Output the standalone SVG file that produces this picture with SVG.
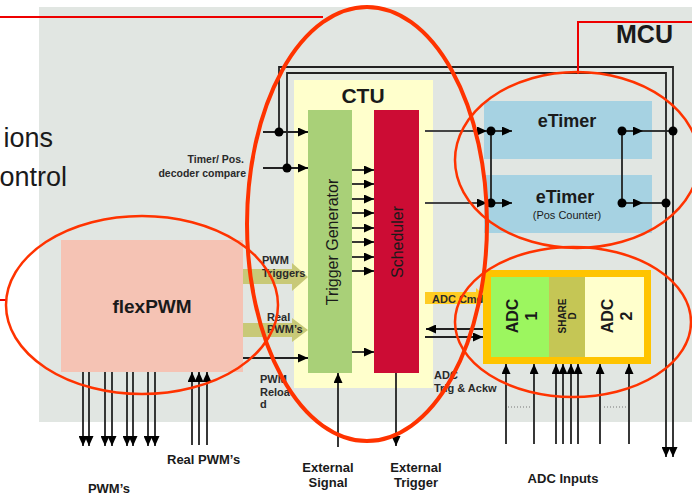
<svg xmlns="http://www.w3.org/2000/svg" width="692" height="496" viewBox="0 0 692 496">
<style>
text{font-family:"Liberation Sans",Arial,sans-serif;fill:#1a1a1a}
.b{font-weight:bold}
.s11{font-size:11px;font-weight:bold;fill:#2a2a2a}
.s13{font-size:13px;font-weight:bold}
.ln{stroke:#222;stroke-width:1.8;fill:none}
.lg{stroke:#444;stroke-width:2;fill:none}
.ell{fill:none;stroke:#ff3300}
.red{stroke:#ee0000;stroke-width:2;fill:none}
.dot{fill:#000}
</style>
<defs>
<marker id="ah" markerUnits="userSpaceOnUse" markerWidth="10" markerHeight="9" refX="10" refY="4.5" orient="auto">
<path d="M0,0 L10,4.5 L0,9 Z" fill="#000"/>
</marker>
</defs>
<rect width="692" height="496" fill="#fff"/>
<g id="mcu">
<rect x="39" y="7" width="653" height="415" fill="#e1e6e2"/>
<text x="616" y="43" class="b" style="font-size:25px">MCU</text>
</g>
<g id="slide-text">
<text x="53" y="147" text-anchor="end" style="font-size:27px">ions</text>
<text x="67" y="186" text-anchor="end" style="font-size:27px">ontrol</text>
</g>
<g id="ctu">
<rect x="294" y="80" width="139" height="308" fill="#ffffcc"/>
<text x="363" y="103" text-anchor="middle" class="b" style="font-size:21px">CTU</text>
</g>
<g id="trigger-generator">
<rect x="308" y="110" width="44" height="263" fill="#a9d078"/>
<text transform="translate(338,242) rotate(-90)" text-anchor="middle" style="font-size:16px">Trigger Generator</text>
</g>
<g id="scheduler">
<rect x="374" y="110" width="45" height="263" fill="#cc0c34"/>
<text transform="translate(403,242) rotate(-90)" text-anchor="middle" style="font-size:16px">Scheduler</text>
</g>
<g id="etimer1">
<rect x="484" y="101" width="168" height="58" fill="#a6d2e2"/>
<text x="567" y="127" text-anchor="middle" class="b" style="font-size:18px">eTimer</text>
</g>
<g id="etimer2">
<rect x="484" y="175" width="168" height="58" fill="#a6d2e2"/>
<text x="565" y="203" text-anchor="middle" class="b" style="font-size:18px">eTimer</text>
<text x="567" y="219" text-anchor="middle" style="font-size:11px">(Pos Counter)</text>
</g>
<g id="flexpwm">
<rect x="61" y="240" width="182" height="132" fill="#f5c3b4"/>
<text x="152" y="313" text-anchor="middle" class="b" style="font-size:19px">flexPWM</text>
</g>
<g id="pwm-triggers-arrow">
<polygon points="243,269 292,269 292,263 308,277 292,291 292,284 243,284" fill="#c8c977"/>
<text x="262" y="264" class="s11">PWM</text>
<text x="262" y="277" class="s11">Triggers</text>
</g>
<g id="real-pwms-arrow">
<polygon points="243,323 292,323 292,318 308,330 292,342 292,337 243,337" fill="#c8c977"/>
<text x="267" y="321" class="s11">Real</text>
<text x="267" y="333" class="s11">PWM’s</text>
</g>
<g id="adc-cmd-arrow">
<polygon points="425,292 476,292 476,288 487,298 476,308 476,304 425,304" fill="#ffcc22"/>
<text x="432" y="303" class="s11">ADC Cmd</text>
</g>
<g id="adc">
<rect x="483" y="270" width="168" height="94" fill="#ffc400"/>
<rect x="491" y="277" width="58" height="80" fill="#9cf65f"/>
<rect x="549" y="277" width="36" height="80" fill="#c5c655"/>
<rect x="585" y="277" width="59" height="80" fill="#ffffcc"/>
<text transform="translate(518,316) rotate(-90)" text-anchor="middle" class="b" style="font-size:16px">ADC</text>
<text transform="translate(537,316) rotate(-90)" text-anchor="middle" class="b" style="font-size:16px">1</text>
<text transform="translate(566,316) rotate(-90)" text-anchor="middle" class="b" style="font-size:10px">SHARE</text>
<text transform="translate(576,316) rotate(-90)" text-anchor="middle" class="b" style="font-size:10px">D</text>
<text transform="translate(613,316) rotate(-90)" text-anchor="middle" class="b" style="font-size:16px">ADC</text>
<text transform="translate(632,316) rotate(-90)" text-anchor="middle" class="b" style="font-size:16px">2</text>
</g>
<g id="connectors">
<polyline class="ln" points="279,132 279,67 673,67 673,457" marker-end="url(#ah)"/>
<polyline class="ln" points="287,168 287,73 666,73 666,457" marker-end="url(#ah)"/>
<line class="ln" x1="263" y1="132" x2="308" y2="132" marker-end="url(#ah)"/>
<line class="ln" x1="263" y1="168" x2="308" y2="168" marker-end="url(#ah)"/>
<circle class="dot" cx="279" cy="132" r="4.5"/>
<circle class="dot" cx="287" cy="168" r="4.5"/>
<line class="ln" x1="352" y1="170" x2="374" y2="170" marker-end="url(#ah)"/>
<line class="ln" x1="352" y1="184" x2="374" y2="184" marker-end="url(#ah)"/>
<line class="ln" x1="352" y1="199" x2="374" y2="199" marker-end="url(#ah)"/>
<line class="ln" x1="352" y1="213" x2="374" y2="213" marker-end="url(#ah)"/>
<line class="ln" x1="352" y1="228" x2="374" y2="228" marker-end="url(#ah)"/>
<line class="ln" x1="352" y1="242" x2="374" y2="242" marker-end="url(#ah)"/>
<line class="ln" x1="352" y1="257" x2="374" y2="257" marker-end="url(#ah)"/>
<line class="ln" x1="352" y1="271" x2="374" y2="271" marker-end="url(#ah)"/>
<line class="ln" x1="352" y1="352" x2="374" y2="352" marker-end="url(#ah)"/>
<line class="lg" x1="425" y1="131" x2="487" y2="131" marker-end="url(#ah)"/>
<line class="lg" x1="425" y1="203" x2="487" y2="203" marker-end="url(#ah)"/>
<line class="ln" x1="491" y1="131" x2="512" y2="131" marker-end="url(#ah)"/>
<line class="ln" x1="491" y1="203" x2="512" y2="203" marker-end="url(#ah)"/>
<line class="ln" x1="491" y1="131" x2="491" y2="203"/>
<circle class="dot" cx="491" cy="131" r="4.5"/>
<circle class="dot" cx="491" cy="203" r="4.5"/>
<line class="ln" x1="622" y1="131" x2="643" y2="131" marker-end="url(#ah)"/>
<line class="ln" x1="622" y1="203" x2="643" y2="203" marker-end="url(#ah)"/>
<line class="ln" x1="643" y1="131" x2="673" y2="131"/>
<line class="ln" x1="643" y1="203" x2="666" y2="203"/>
<line class="ln" x1="622" y1="131" x2="622" y2="203"/>
<circle class="dot" cx="622" cy="131" r="4.5"/>
<circle class="dot" cx="622" cy="203" r="4.5"/>
<circle class="dot" cx="673" cy="131" r="4.5"/>
<circle class="dot" cx="666" cy="203" r="4.5"/>
<line class="ln" x1="483" y1="329" x2="426" y2="329" marker-end="url(#ah)"/>
<line class="ln" x1="425" y1="337" x2="483" y2="337" marker-end="url(#ah)"/>
<line class="ln" x1="243" y1="358" x2="308" y2="358" marker-end="url(#ah)"/>
<line class="ln" x1="338" y1="447" x2="338" y2="373" marker-end="url(#ah)"/>
<line class="ln" x1="396" y1="373" x2="396" y2="446" marker-end="url(#ah)"/>
<line class="ln" x1="83" y1="372" x2="83" y2="446" marker-end="url(#ah)"/>
<line class="ln" x1="89" y1="372" x2="89" y2="446" marker-end="url(#ah)"/>
<line class="ln" x1="105" y1="372" x2="105" y2="446" marker-end="url(#ah)"/>
<line class="ln" x1="112" y1="372" x2="112" y2="446" marker-end="url(#ah)"/>
<line class="ln" x1="127" y1="372" x2="127" y2="446" marker-end="url(#ah)"/>
<line class="ln" x1="133" y1="372" x2="133" y2="446" marker-end="url(#ah)"/>
<line class="ln" x1="148" y1="372" x2="148" y2="446" marker-end="url(#ah)"/>
<line class="ln" x1="155" y1="372" x2="155" y2="446" marker-end="url(#ah)"/>
<line class="ln" x1="192" y1="445" x2="192" y2="372" marker-end="url(#ah)"/>
<line class="ln" x1="199" y1="445" x2="199" y2="372" marker-end="url(#ah)"/>
<line class="ln" x1="207" y1="445" x2="207" y2="372" marker-end="url(#ah)"/>
<line class="ln" x1="506" y1="444" x2="506" y2="364" marker-end="url(#ah)"/>
<line class="ln" x1="534" y1="444" x2="534" y2="364" marker-end="url(#ah)"/>
<line class="ln" x1="556" y1="444" x2="556" y2="364" marker-end="url(#ah)"/>
<line class="ln" x1="563" y1="444" x2="563" y2="364" marker-end="url(#ah)"/>
<line class="ln" x1="571" y1="444" x2="571" y2="364" marker-end="url(#ah)"/>
<line class="ln" x1="578" y1="444" x2="578" y2="364" marker-end="url(#ah)"/>
<line class="ln" x1="600" y1="444" x2="600" y2="364" marker-end="url(#ah)"/>
<line class="ln" x1="629" y1="444" x2="629" y2="364" marker-end="url(#ah)"/>
<line x1="508" y1="407" x2="532" y2="407" stroke="#777" stroke-width="1" stroke-dasharray="1,2"/>
<line x1="604" y1="407" x2="627" y2="407" stroke="#777" stroke-width="1" stroke-dasharray="1,2"/>
</g>
<g id="labels">
<text x="244" y="163" text-anchor="end" class="b" style="font-size:10.5px;fill:#2a2a2a">Timer/ Pos.</text>
<text x="246" y="177" text-anchor="end" class="b" style="font-size:10.5px;fill:#2a2a2a">decoder compare</text>
<text x="260" y="383" class="s11">PWM</text>
<text x="260" y="396" class="s11">Reloa</text>
<text x="260" y="408" class="s11">d</text>
<text x="434" y="379" class="s11">ADC</text>
<text x="434" y="392" class="s11">Trig &amp; Ackw</text>
<text x="563" y="483" text-anchor="middle" class="s13">ADC Inputs</text>
<text x="167" y="464" class="s13">Real PWM’s</text>
<text x="109" y="493" text-anchor="middle" class="s13">PWM’s</text>
<text x="328" y="472" text-anchor="middle" class="s13">External</text>
<text x="328" y="487" text-anchor="middle" class="s13">Signal</text>
<text x="416" y="472" text-anchor="middle" class="s13">External</text>
<text x="416" y="487" text-anchor="middle" class="s13">Trigger</text>
</g>
<g id="highlights">
<line class="red" x1="0" y1="17" x2="323" y2="17"/>
<polyline class="red" points="578,74 578,22 692,22"/>
<line class="red" x1="0" y1="300" x2="6" y2="300"/>
<ellipse class="ell" cx="367" cy="224" rx="120" ry="217" stroke-width="4"/>
<ellipse class="ell" cx="577" cy="160" rx="122" ry="88" stroke-width="2.5"/>
<ellipse class="ell" cx="573" cy="322" rx="118" ry="75" stroke-width="2.5"/>
<ellipse class="ell" cx="142" cy="305" rx="136" ry="89" stroke-width="2.5"/>
</g>
</svg>
